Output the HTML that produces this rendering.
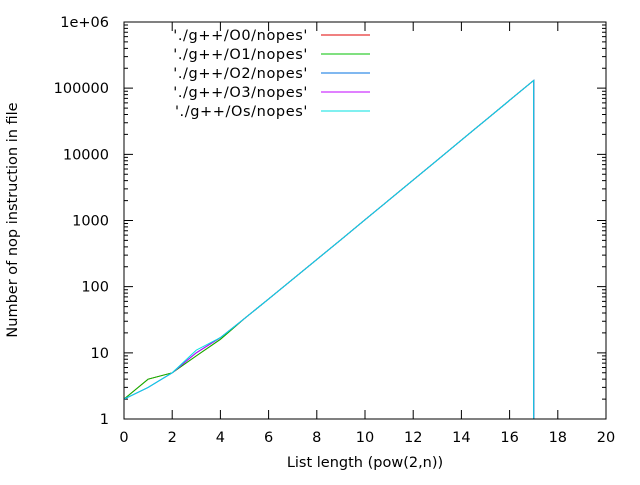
<!DOCTYPE html>
<html><head><meta charset="utf-8"><style>
body{margin:0;background:#fff}
svg{font-family:"DejaVu Sans","Liberation Sans",sans-serif;font-size:14.5px}
#legend text{letter-spacing:0.6px}
</style></head><body>
<svg id="c" width="640" height="480" viewBox="0 0 640 480">
<rect x="0" y="0" width="640" height="480" fill="#fff"/>
<g id="axes"></g><g id="series"></g><g id="legend"></g>
<rect x="124" y="22" width="482" height="397" fill="none" stroke="#000"/>
<text x="365" y="467" text-anchor="middle">List length (pow(2,n))</text>
<text x="17" y="220" text-anchor="middle" transform="rotate(-90 17 220)">Number of nop instruction in file</text>
</svg>
<script>
const xTicks=[0,2,4,6,8,10,12,14,16,18,20];
const yTicks=[1,10,100,1000,10000,100000,1000000];
const yTickLabels=["1","10","100","1000","10000","100000","1e+06"];
const seriesNames=["'./g++/O0/nopes'","'./g++/O1/nopes'","'./g++/O2/nopes'","'./g++/O3/nopes'","'./g++/Os/nopes'"];
const seriesColors=["#e00000","#00c000","#0070e0","#c000ff","#00e0e0"];
const nValues=[0,1,2,3,4,5,6,7,8,9,10,11,12,13,14,15,16,17,17];
const o0=[2,4,5,9,16,33,65,129,257,513,1025,2049,4097,8193,16385,32769,65537,131073,1];
const o1=[2,4,5,9,16,33,65,129,257,513,1025,2049,4097,8193,16385,32769,65537,131073,1];
const o2=[2,3,5,10,17,33,65,129,257,513,1025,2049,4097,8193,16385,32769,65537,131073,1];
const o3=[2,3,5,10,17,33,65,129,257,513,1025,2049,4097,8193,16385,32769,65537,131073,1];
const os=[2,3,5,11,17,33,65,129,257,513,1025,2049,4097,8193,16385,32769,65537,131073,1];
const allSeries=[o0,o1,o2,o3,os];
const X0=124,X1=606,Y0=419,Y1=22;
const xs=v=>X0+(v-0)/20*(X1-X0);
const ys=v=>Y0-Math.log10(v)/6*(Y0-Y1);
const NS="http://www.w3.org/2000/svg";
function mk(t,a,p){const e=document.createElementNS(NS,t);for(const k in a)e.setAttribute(k,a[k]);p.appendChild(e);return e;}
const ax=document.getElementById('axes');
xTicks.forEach(v=>{const x=xs(v);
 let l=mk('path',{d:`M${x} ${Y0}v-9M${x} ${Y1}v9`,stroke:'#000'},ax);
 
 
 let t=mk('text',{x:x,y:442,'text-anchor':'middle'},ax);t.textContent=v;
 
 
});
yTicks.forEach((v,i)=>{const y=ys(v);
 let l=mk('path',{d:`M${X0} ${y}h9M${X1} ${y}h-9`,stroke:'#000'},ax);
 
 
 let t=mk('text',{x:109,y:y+5,'text-anchor':'end'},ax);t.textContent=yTickLabels[i];
 
 
 if(i<yTicks.length-1)for(let m=2;m<10;m++){const yy=ys(v*m);
  let mm=mk('path',{d:`M${X0} ${yy}h4M${X1} ${yy}h-4`,stroke:'#000'},ax);
  
  }
});
const sg=document.getElementById('series'),lg=document.getElementById('legend');
allSeries.forEach((s,i)=>{
 const d=s.map((v,j)=>(j?'L':'M')+xs(nValues[j]).toFixed(1)+' '+ys(v).toFixed(1)).join('');
 let p=mk('path',{d:d,fill:'none',stroke:seriesColors[i],'stroke-width':1},sg);
 
 
 const y=35+i*19;
 let t=mk('text',{x:308,y:y+5,'text-anchor':'end'},lg);t.textContent=seriesNames[i];
 
 
 let l=mk('path',{d:`M321 ${y}H370`,stroke:seriesColors[i]},lg);
 
 
});
</script>
</body></html>
